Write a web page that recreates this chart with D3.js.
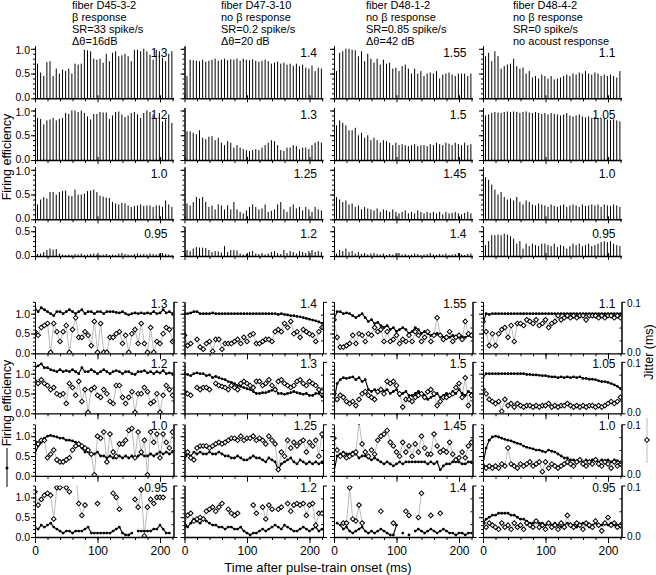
<!DOCTYPE html>
<html>
<head>
<meta charset="utf-8">
<title>Firing efficiency and jitter</title>
<style>
body { margin: 0; background: #fff; }
svg { font-family: "Liberation Sans", Arial, sans-serif; }
</style>
</head>
<body>
<svg width="656" height="575"></svg>
<script src="https://d3js.org/d3.v7.min.js"></script>
<script>

// ---- data ----
var headerLines = [
  ["fiber D45-3-2", "\u03b2 response", "SR=33 spike/s", "\u0394\u03b8=16dB"],
  ["fiber D47-3-10", "no \u03b2 response", "SR=0.2 spike/s", "\u0394\u03b8=20 dB"],
  ["fiber D48-1-2", "no \u03b2 response", "SR=0.85 spike/s", "\u0394\u03b8=42 dB"],
  ["fiber D48-4-2", "no \u03b2 response", "SR=0 spike/s", "no acoust response"]
];

// stimulus level shown in each panel, per fiber, top row to bottom row
var levels = [
  ["1.3", "1.2", "1.0", "0.95"],
  ["1.4", "1.3", "1.25", "1.2"],
  ["1.55", "1.5", "1.45", "1.4"],
  ["1.1", "1.05", "1.0", "0.95"]
];

// pulse onsets (ms) for the period histograms
var pulseTimes = [4,9,14,19,24,29,34,39,44,49,54,59,64,69,74,79,84,89,94,99,104,109,
  114,119,124,129,134,139,144,149,154,159,164,169,174,179,184,189,194,199,204,209,214,219];

// firing efficiency per pulse (upper panels)
var histD45 = [
  [0.70,0.52,0.45,0.73,0.75,0.45,0.60,0.50,0.58,0.55,0.60,
   0.50,0.70,0.68,0.70,0.98,0.97,0.95,0.80,0.78,0.80,0.72,
   0.90,0.75,0.92,0.95,0.85,0.87,0.90,0.85,0.75,0.98,0.98,
   0.95,1.00,0.95,0.88,0.78,0.98,0.95,0.82,0.75,0.90,0.95],
  [0.85,0.83,0.72,0.80,0.82,0.85,0.80,0.83,0.85,0.95,0.93,
   1.00,1.00,0.97,1.00,0.95,0.88,0.82,0.93,0.93,0.97,0.96,
   0.96,0.83,0.90,0.97,0.98,0.92,0.87,0.90,0.95,0.97,0.92,
   0.85,0.95,1.00,0.97,0.92,0.85,0.95,0.78,0.82,0.92,0.75],
  [0.30,0.40,0.45,0.42,0.55,0.55,0.50,0.55,0.57,0.58,0.48,
   0.47,0.60,0.50,0.50,0.52,0.57,0.58,0.60,0.55,0.48,0.46,
   0.44,0.43,0.35,0.32,0.30,0.33,0.32,0.28,0.25,0.27,0.28,
   0.30,0.27,0.28,0.28,0.25,0.28,0.28,0.25,0.38,0.30,0.25],
  [0.04,0.05,0.08,0.12,0.15,0.13,0.14,0.05,0.03,0.02,0.03,
   0.02,0.04,0.03,0.05,0.02,0.03,0.04,0.05,0.03,0.02,0.03,
   0.04,0.02,0.03,0.02,0.05,0.06,0.04,0.03,0.02,0.04,0.05,
   0.03,0.04,0.03,0.05,0.04,0.03,0.05,0.06,0.04,0.03,0.02]
];
var histD47 = [
  [0.45,0.78,0.77,0.76,0.75,0.78,0.74,0.76,0.78,0.80,0.76,
   0.78,0.80,0.77,0.79,0.78,0.80,0.76,0.80,0.78,0.77,0.79,
   0.76,0.74,0.76,0.78,0.75,0.70,0.72,0.74,0.70,0.72,0.68,
   0.70,0.66,0.70,0.65,0.68,0.62,0.60,0.66,0.55,0.62,0.60],
  [0.58,0.58,0.55,0.52,0.60,0.45,0.42,0.47,0.48,0.40,0.45,
   0.35,0.30,0.38,0.35,0.25,0.30,0.25,0.22,0.20,0.18,0.20,
   0.22,0.20,0.25,0.30,0.35,0.40,0.38,0.30,0.20,0.18,0.25,
   0.25,0.30,0.28,0.22,0.25,0.25,0.22,0.30,0.35,0.38,0.35],
  [0.32,0.28,0.35,0.45,0.42,0.45,0.35,0.25,0.28,0.20,0.30,
   0.28,0.20,0.28,0.20,0.35,0.20,0.15,0.12,0.18,0.25,0.30,
   0.25,0.20,0.22,0.30,0.15,0.17,0.20,0.30,0.35,0.20,0.15,
   0.25,0.30,0.22,0.25,0.18,0.25,0.20,0.15,0.25,0.20,0.18],
  [0.12,0.10,0.15,0.18,0.17,0.17,0.16,0.12,0.08,0.10,0.09,
   0.07,0.20,0.08,0.12,0.12,0.11,0.05,0.03,0.04,0.08,0.10,
   0.05,0.04,0.06,0.03,0.05,0.08,0.10,0.06,0.04,0.12,0.06,
   0.10,0.08,0.05,0.10,0.08,0.06,0.10,0.12,0.08,0.10,0.08]
];
var histD481 = [
  [0.55,0.92,0.95,1.00,1.00,0.98,0.97,0.85,0.95,0.75,0.90,
   0.80,0.72,0.80,0.68,0.78,0.70,0.72,0.60,0.62,0.55,0.65,
   0.68,0.60,0.50,0.60,0.50,0.55,0.45,0.50,0.52,0.50,0.55,
   0.40,0.48,0.50,0.52,0.48,0.45,0.50,0.50,0.50,0.45,0.50],
  [0.70,0.80,0.75,0.70,0.60,0.60,0.65,0.50,0.55,0.45,0.50,
   0.40,0.45,0.40,0.35,0.40,0.38,0.35,0.30,0.35,0.30,0.32,
   0.30,0.28,0.30,0.32,0.28,0.30,0.30,0.28,0.32,0.30,0.35,
   0.32,0.30,0.35,0.33,0.30,0.35,0.32,0.30,0.35,0.30,0.32],
  [0.45,0.40,0.35,0.38,0.30,0.32,0.25,0.28,0.20,0.25,0.22,
   0.20,0.18,0.22,0.15,0.20,0.18,0.15,0.20,0.15,0.12,0.15,
   0.18,0.12,0.15,0.12,0.18,0.15,0.12,0.15,0.13,0.15,0.12,
   0.15,0.10,0.15,0.12,0.13,0.15,0.12,0.10,0.13,0.15,0.12],
  [0.05,0.12,0.10,0.15,0.08,0.10,0.05,0.08,0.04,0.06,0.03,
   0.05,0.06,0.04,0.03,0.05,0.02,0.04,0.03,0.05,0.06,0.03,
   0.04,0.02,0.03,0.05,0.04,0.02,0.03,0.04,0.06,0.03,0.02,
   0.04,0.03,0.05,0.02,0.03,0.04,0.06,0.03,0.02,0.04,0.05]
];
var histD484 = [
  [0.85,0.92,0.75,0.95,0.85,0.60,0.65,0.68,0.70,0.80,0.65,
   0.60,0.62,0.50,0.55,0.42,0.45,0.40,0.48,0.45,0.40,0.45,
   0.38,0.40,0.42,0.45,0.48,0.45,0.50,0.48,0.52,0.50,0.55,
   0.50,0.48,0.52,0.50,0.45,0.48,0.45,0.48,0.45,0.42,0.55],
  [0.90,0.92,0.95,0.97,0.96,0.95,0.97,0.98,0.97,0.98,0.97,
   0.95,0.97,0.98,0.96,0.95,0.97,0.95,0.93,0.95,0.92,0.95,
   0.93,0.92,0.90,0.92,0.95,0.90,0.88,0.90,0.92,0.88,0.86,
   0.88,0.85,0.87,0.85,0.83,0.85,0.82,0.80,0.82,0.80,0.78],
  [0.85,0.80,0.70,0.60,0.50,0.55,0.45,0.40,0.42,0.38,0.45,
   0.35,0.30,0.38,0.35,0.30,0.28,0.32,0.30,0.28,0.25,0.30,
   0.27,0.25,0.28,0.30,0.25,0.28,0.30,0.28,0.25,0.30,0.27,
   0.28,0.30,0.28,0.30,0.25,0.30,0.28,0.27,0.30,0.28,0.25],
  [0.22,0.30,0.42,0.42,0.43,0.42,0.45,0.43,0.40,0.35,0.25,
   0.30,0.15,0.25,0.20,0.25,0.22,0.20,0.25,0.25,0.22,0.20,
   0.25,0.18,0.22,0.20,0.15,0.20,0.25,0.22,0.25,0.20,0.22,
   0.25,0.20,0.22,0.25,0.28,0.30,0.28,0.30,0.25,0.22,0.20]
];

// sample times (ms) for the lower panels
var sampleTimes = [0,5,10,15,20,25,30,35,40,45,50,55,60,65,70,75,80,85,90,95,100,105,
  110,115,120,125,130,135,140,145,150,155,160,165,170,175,180,185,190,195,200,205,210,215,220];

// firing efficiency (lower panels, left axis)
var effD45 = [
  [1.15,1.05,1.15,1.10,1.05,1.00,0.95,1.05,1.05,
   1.00,1.05,1.10,1.05,1.00,1.05,1.10,1.00,1.05,
   1.05,1.00,1.05,1.05,1.00,1.05,1.05,1.05,1.03,
   1.02,1.05,1.00,0.97,1.00,1.02,1.00,1.02,1.00,
   1.02,1.00,1.05,1.00,1.02,1.10,1.02,1.05,1.00],
  [1.15,1.20,1.25,1.15,1.15,1.10,1.08,1.05,1.10,
   1.05,1.08,1.05,1.10,1.05,1.00,1.15,1.05,1.05,
   1.10,1.05,1.00,1.05,1.10,1.05,1.00,1.05,1.08,
   1.05,1.00,1.05,1.05,1.00,0.98,1.05,1.05,1.08,
   1.02,1.05,1.00,1.05,1.02,1.08,1.00,1.02,1.00],
  [0.55,0.75,0.85,0.95,1.00,1.02,1.00,0.98,0.95,
   0.95,0.90,0.90,0.88,0.85,0.80,0.70,0.60,0.60,
   0.55,0.55,0.60,0.50,0.50,0.45,0.50,0.45,0.45,
   0.50,0.45,0.50,0.45,0.50,0.45,0.50,0.55,0.50,
   0.50,0.55,0.50,0.55,0.60,0.55,0.60,0.55,0.60],
  [0.25,0.20,0.30,0.25,0.30,0.35,0.25,0.20,0.15,
   0.10,0.15,0.15,0.10,0.15,0.15,0.15,0.20,0.25,
   0.10,0.10,0.10,0.10,0.10,0.10,0.10,0.15,0.20,
   0.25,0.10,0.05,0.05,0.10,null,0.15,0.15,0.15,
   0.15,0.15,0.20,0.20,0.30,0.20,0.10,0.10,null]
];
var effD47 = [
  [1.00,1.00,1.02,1.05,1.05,1.00,1.00,1.00,1.00,
   1.02,1.00,1.00,1.00,1.00,1.00,1.00,1.00,1.00,
   1.00,1.00,1.00,1.00,1.00,1.00,1.00,1.00,1.00,
   1.00,1.00,1.00,0.98,1.00,0.98,0.97,0.95,0.95,
   0.93,0.92,0.90,0.88,0.86,0.84,0.82,0.79,0.76],
  [1.00,0.98,0.95,1.00,1.02,1.00,1.00,0.95,0.97,
   0.90,0.93,0.90,0.87,0.85,0.80,0.78,0.75,0.70,
   0.68,0.65,0.62,0.60,0.55,0.50,0.50,0.52,0.52,
   0.55,0.58,0.62,0.50,0.50,0.48,0.50,0.52,0.55,
   0.52,0.50,0.48,0.50,0.45,0.45,0.50,0.50,0.42],
  [0.45,0.55,0.50,0.60,0.55,0.60,0.55,0.55,0.60,
   0.55,0.55,0.60,0.55,0.50,0.50,0.45,0.45,0.50,
   0.45,0.40,0.40,0.45,0.50,0.45,0.45,0.40,0.35,
   0.45,0.40,0.35,0.15,0.30,0.35,0.40,0.45,0.35,
   0.30,0.40,0.35,0.30,0.35,0.30,0.35,0.30,0.35],
  [0.30,0.25,0.35,0.45,0.40,0.35,0.45,0.40,0.35,
   0.30,0.30,0.25,0.25,0.20,0.25,0.25,0.20,0.20,
   0.25,0.15,0.10,0.05,0.10,0.10,0.15,0.20,0.15,
   0.20,0.25,0.30,0.25,0.20,0.30,0.25,0.20,0.15,
   0.15,0.20,0.25,0.20,0.15,0.20,0.25,0.15,0.20]
];
var effD481 = [
  [0.85,1.05,1.05,1.00,1.02,1.00,0.95,0.90,0.95,
   1.00,0.90,0.80,0.85,0.75,0.78,0.70,0.65,0.70,
   0.60,0.65,0.55,0.60,0.65,0.60,0.50,0.55,0.65,
   0.60,0.50,0.55,0.50,0.45,0.48,0.50,0.45,0.40,
   0.42,0.40,0.45,0.42,0.40,0.42,0.40,0.45,0.42],
  [0.30,0.75,0.85,0.90,0.88,0.90,0.92,0.85,0.90,
   0.80,0.85,0.60,0.55,0.60,0.55,0.60,0.55,0.60,
   0.50,0.55,0.60,0.45,0.50,0.55,0.45,0.45,0.50,
   0.55,0.50,0.45,0.35,0.40,0.45,0.50,0.40,0.45,
   0.50,0.45,0.55,0.50,0.60,0.50,0.45,0.55,0.50],
  [0.10,0.50,0.55,0.60,0.55,0.55,0.60,0.55,0.45,
   0.50,0.50,0.45,0.40,0.45,0.40,0.35,0.30,0.35,
   0.30,0.25,0.30,0.35,0.30,0.35,0.35,0.35,0.35,
   0.35,0.35,0.35,0.30,0.35,0.30,0.35,0.15,0.25,
   0.30,0.30,0.35,0.35,0.35,0.30,0.30,0.35,0.35],
  [null,0.35,0.30,0.20,0.25,0.15,0.10,0.15,0.20,
   0.25,0.15,0.10,0.15,0.10,0.15,0.20,0.15,0.10,
   0.05,0.05,0.30,null,0.10,null,0.05,null,0.15,
   0.20,0.15,0.10,0.15,0.20,0.15,0.10,0.15,0.20,
   0.15,0.10,0.10,0.05,0.10,0.10,0.05,0.10,0.10]
];
var effD484 = [
  [0.75,1.00,0.98,1.00,1.00,1.00,1.00,1.00,1.00,
   1.00,1.00,1.00,1.00,1.00,1.00,1.00,1.00,1.00,
   1.00,1.00,1.00,1.00,1.00,1.00,1.00,1.00,1.00,
   1.00,1.00,1.00,1.00,1.00,1.00,1.00,1.00,1.00,
   1.00,1.00,1.00,1.00,1.00,1.00,1.00,1.00,1.00],
  [0.90,1.00,1.00,1.00,1.00,1.00,1.00,1.00,1.00,
   1.00,1.00,1.00,1.00,1.00,0.98,0.98,0.97,0.97,
   0.96,0.95,0.95,0.93,0.92,0.92,0.90,0.92,0.90,
   0.92,0.90,0.92,0.90,0.92,0.88,0.88,0.86,0.86,
   0.85,0.82,0.80,0.80,0.78,0.75,0.72,0.68,0.62],
  [0.30,0.70,0.90,0.98,1.00,0.98,0.95,0.92,0.90,
   0.88,0.85,0.82,0.80,0.75,0.72,0.70,0.68,0.65,
   0.65,0.62,0.60,0.65,0.62,0.60,0.55,0.50,0.45,
   0.45,0.40,0.40,0.35,0.40,0.35,0.40,0.35,0.40,
   0.38,0.35,0.40,0.38,0.40,0.35,0.40,0.38,0.35],
  [0.35,0.45,0.50,0.55,0.55,0.60,0.60,0.60,0.60,
   0.55,0.55,0.50,0.45,0.45,0.40,0.35,0.35,0.40,
   0.35,0.35,0.30,0.35,0.30,0.35,0.30,0.25,0.30,
   0.35,0.30,0.30,0.25,0.30,0.35,0.30,0.25,0.30,
   0.35,0.30,0.30,0.35,0.30,0.35,0.30,0.30,0.25]
];

// spike jitter in ms (lower panels, right axis)
var jitD45 = [
  [0.042,0.035,0.050,0.054,0.058,0.002,0.058,0.042,0.023,
   0.042,0.054,0.002,0.046,0.069,0.031,0.031,0.042,0.035,
   0.015,0.062,0.002,0.058,0.002,0.002,0.031,0.031,0.038,
   0.042,0.019,0.035,0.002,0.038,0.046,0.019,0.058,0.019,
   0.002,0.050,0.002,0.023,0.019,0.038,0.050,0.046,0.023],
  [0.062,0.058,0.065,0.058,0.054,0.046,0.050,0.038,0.035,
   0.038,0.019,0.058,0.050,0.035,0.062,0.023,0.046,0.002,
   0.046,0.050,0.035,0.031,0.046,0.038,0.023,0.019,0.054,
   0.054,0.031,0.019,0.031,0.042,0.002,0.038,0.038,0.050,
   0.042,0.019,0.023,0.038,0.002,0.035,0.054,0.046,0.035],
  [0.065,0.062,0.069,0.069,0.035,0.042,0.050,0.031,0.027,
   0.027,0.031,0.035,0.050,0.058,0.062,0.058,0.054,0.050,
   0.042,0.002,0.077,0.073,0.085,0.027,0.081,0.046,0.038,
   0.062,0.062,0.069,0.088,0.092,0.035,0.085,0.046,0.069,
   0.002,0.085,0.065,0.081,0.035,0.081,0.065,0.054,0.085],
  [0.088,0.062,0.073,0.081,0.085,0.081,0.035,0.096,0.096,
   null,0.096,0.088,null,0.123,0.065,0.042,0.062,null,
   null,null,0.065,null,null,null,null,0.085,0.077,
   0.054,null,null,null,null,0.073,0.058,0.092,0.002,
   0.058,0.073,0.065,0.077,0.077,0.077,null,null,null]
];
var jitD47 = [
  [0.035,0.015,0.019,null,0.027,0.012,0.008,0.019,0.023,
   0.004,0.027,0.027,0.008,0.019,0.019,0.019,0.023,0.027,
   0.019,0.031,0.023,0.035,0.038,0.019,0.019,0.023,0.027,
   0.027,0.023,0.042,0.046,0.042,0.058,0.050,0.062,0.038,
   0.042,0.031,0.046,0.042,0.038,0.035,0.023,0.042,0.050],
  [0.042,0.038,0.035,null,0.050,0.046,0.050,0.050,0.046,
   null,0.058,0.054,0.052,0.050,0.046,0.054,0.050,0.046,
   0.058,0.062,0.058,0.054,0.050,0.062,0.062,0.054,0.058,
   0.065,0.054,0.046,0.062,0.065,0.058,0.054,0.050,0.054,
   0.062,0.065,0.058,0.054,0.062,0.058,0.054,0.046,0.042],
  [0.038,0.046,0.035,0.031,0.054,0.058,0.058,0.058,0.054,
   0.058,0.062,0.065,0.062,0.065,0.069,0.073,0.073,0.069,
   0.077,0.069,0.073,0.073,0.077,0.069,0.073,0.069,0.062,
   0.077,0.069,0.062,0.012,0.046,0.038,0.069,0.054,0.065,
   0.058,0.065,0.069,0.046,0.065,0.058,0.069,0.038,0.081],
  [0.023,0.042,0.046,0.031,0.035,0.038,0.035,0.050,0.054,
   0.058,0.050,0.058,0.065,null,0.054,0.046,0.042,0.046,
   null,null,null,null,0.062,0.046,null,0.058,0.035,
   0.062,0.054,null,0.054,0.058,null,0.065,0.050,0.062,
   0.065,0.062,0.065,0.042,0.062,0.065,0.023,0.046,0.046]
];
var jitD481 = [
  [0.065,0.031,0.012,0.012,0.015,0.019,0.035,0.019,0.038,
   0.035,0.023,0.038,0.035,0.050,0.042,0.046,0.023,0.042,
   0.023,0.027,0.035,0.019,0.027,0.023,0.035,0.023,0.042,
   0.035,0.023,0.031,0.042,0.023,0.035,0.069,0.035,0.027,
   0.031,0.042,0.023,0.031,0.035,0.027,0.062,0.038,0.035],
  [0.038,0.027,0.035,0.031,0.023,0.019,0.023,0.015,0.027,
   0.038,0.042,0.035,0.031,0.027,0.042,0.046,0.038,0.062,
   0.058,0.062,0.054,0.038,0.012,0.027,0.027,0.023,0.031,
   0.035,0.038,0.031,0.042,0.046,0.038,0.015,0.023,0.031,
   0.031,0.035,0.038,0.050,0.058,0.031,0.069,0.015,0.035],
  [0.073,0.050,0.038,0.042,0.035,0.038,0.042,0.046,0.104,
   0.062,0.046,0.038,0.050,0.042,0.069,0.077,0.081,0.088,
   0.065,0.058,0.046,0.038,0.065,0.046,0.058,0.038,0.062,
   0.046,0.077,0.054,0.042,0.042,0.081,0.058,0.046,0.050,
   0.046,0.065,0.042,0.031,0.035,0.046,0.035,0.058,0.065],
  [null,null,null,0.027,0.027,0.096,0.035,0.031,0.062,
   0.027,null,null,null,null,null,0.050,null,null,
   null,0.027,null,null,null,0.050,0.042,null,null,
   0.038,0.085,null,null,0.042,null,null,0.046,null,
   null,null,null,null,null,null,null,null,null]
];
var jitD484 = [
  [0.062,0.042,0.015,0.038,0.015,0.038,0.046,0.050,0.031,
   0.054,0.023,0.058,0.058,0.054,0.065,0.062,0.058,0.065,
   0.054,0.058,0.065,0.050,0.058,0.062,0.073,0.065,0.069,
   0.073,0.069,0.073,0.069,0.073,0.073,0.065,0.073,0.073,
   0.073,0.069,0.073,0.069,0.073,0.073,0.069,0.073,0.069],
  [0.046,0.038,0.027,0.023,0.019,0.023,0.004,0.027,0.015,
   0.019,0.012,0.019,0.015,0.012,0.015,0.015,0.012,0.015,
   0.012,0.015,0.015,0.019,0.012,0.015,0.012,0.015,0.015,
   0.019,0.015,0.012,0.015,0.012,0.015,0.012,0.015,0.015,
   0.012,0.015,0.012,0.015,0.019,0.023,0.019,0.023,0.031],
  [0.019,0.015,0.019,0.015,0.019,0.015,0.023,0.019,0.054,
   0.023,0.019,0.015,0.023,0.019,0.023,0.027,0.019,0.023,
   0.027,0.008,0.027,0.015,0.023,0.019,0.015,0.019,0.023,
   0.027,0.023,0.019,0.027,0.031,0.023,0.019,0.027,0.023,
   0.031,0.023,0.019,0.027,0.023,0.015,0.027,0.019,0.023],
  [0.027,0.019,0.027,0.023,0.019,0.015,0.027,0.019,0.023,
   0.015,0.027,0.019,0.023,0.015,0.027,0.023,0.019,0.031,
   0.019,0.023,0.015,0.027,0.019,0.023,0.015,0.027,0.019,
   0.042,0.023,0.019,0.027,0.023,0.015,0.027,0.023,0.019,
   0.031,0.023,0.012,0.027,0.038,0.023,0.027,0.019,0.023]
];

var histData = [histD45, histD47, histD481, histD484];
var effData = [effD45, effD47, effD481, effD484];
var jitData = [jitD45, jitD47, jitD481, jitD484];

// ---- layout ----
var svg = d3.select("svg");
var colX = [35, 184.5, 334, 483];
var headerX = [72, 221, 366, 513];
var panelW = 138.5;
var x = d3.scaleLinear().domain([0, 221.6]).range([0, panelW]);

var histRows = [
  {base: 98.3, top: 1.06},
  {base: 160, top: 1.06},
  {base: 219.3, top: 1.06},
  {base: 256, top: 0.6}
];
var histK = 49.5;
var dynBase = [353.3, 413.3, 475.8, 537];
var dynK = 39.6, dynTop = 1.3;

function styleAxis(g) {
  g.select(".domain").attr("stroke", "#000");
  g.selectAll(".tick line").attr("stroke", "#000");
  g.selectAll(".tick text").attr("font-size", 10.5).attr("fill", "#000")
    .attr("font-family", "Liberation Sans, Arial, sans-serif");
}

// column headers
headerLines.forEach(function(lines, c) {
  lines.forEach(function(s, i) {
    svg.append("text")
      .attr("x", headerX[c]).attr("y", 8.8 + i * 12.1)
      .attr("font-size", 11).text(s);
  });
});

// upper panels: firing efficiency per pulse
histData.forEach(function(col, c) {
  histRows.forEach(function(row, r) {
    var y = d3.scaleLinear().domain([0, row.top]).range([row.base, row.base - row.top * histK]);
    var g = svg.append("g").attr("transform", "translate(" + colX[c] + ",0)");

    g.selectAll("line.bar")
      .data(d3.zip(pulseTimes, col[r]))
      .join("line")
        .attr("class", "bar")
        .attr("x1", function(d) { return x(d[0]); })
        .attr("x2", function(d) { return x(d[0]); })
        .attr("y1", y(0))
        .attr("y2", function(d) { return y(d[1]); })
        .attr("stroke", "#000")
        .attr("stroke-width", 1);

    g.append("g")
      .call(d3.axisLeft(y).tickValues(d3.range(0, row.top + 1e-6, 0.1)).tickSize(2).tickFormat("").tickSizeOuter(0))
      .call(styleAxis);
    var la = g.append("g")
      .call(d3.axisLeft(y).tickValues([0, 0.5, 1].filter(function(v) { return v <= row.top; }))
        .tickSize(4).tickPadding(1).tickSizeOuter(0)
        .tickFormat(c === 0 ? d3.format(".1f") : ""))
      .call(styleAxis);
    // keep the stacked 0.0 / 1.0 labels of neighbouring rows apart
    la.selectAll(".tick").filter(function(d) { return d === 0; }).select("text").attr("dy", "0.2em");
    la.selectAll(".tick").filter(function(d) { return d === 1; }).select("text").attr("dy", "0.45em");

    var xa = g.append("g").attr("transform", "translate(0," + row.base + ")")
      .call(d3.axisBottom(x).tickValues(d3.range(0, 221, 20)).tickSize(3).tickFormat("").tickSizeOuter(0))
      .call(styleAxis);
    xa.select(".domain").attr("stroke-width", 1.6);
    xa.selectAll(".tick").filter(function(d) { return d % 100 === 0; })
      .select("line").attr("y1", -3).attr("y2", 4);

    g.append("text")
      .attr("x", panelW - 6).attr("y", row.base - row.top * histK + 11.5)
      .attr("text-anchor", "end").attr("font-size", 12)
      .text(levels[c][r]);
  });
});

// lower panels: firing efficiency and jitter
var clipId = 0;
effData.forEach(function(col, c) {
  dynBase.forEach(function(base, r) {
    var yL = d3.scaleLinear().domain([0, dynTop]).range([base, base - dynTop * dynK]);
    var yR = d3.scaleLinear().domain([0, 0.1]).range([base, base - dynTop * dynK]);
    var g = svg.append("g").attr("transform", "translate(" + colX[c] + ",0)");

    clipId++;
    g.append("clipPath").attr("id", "clip" + clipId)
      .append("rect").attr("x", 0).attr("y", yL(dynTop)).attr("width", panelW).attr("height", dynTop * dynK);
    var plot = g.append("g").attr("clip-path", "url(#clip" + clipId + ")");

    var jit = d3.zip(sampleTimes, jitData[c][r]);
    var eff = d3.zip(sampleTimes, col[r]);

    plot.append("path")
      .datum(jit)
      .attr("fill", "none").attr("stroke", "#bbb").attr("stroke-width", 1)
      .attr("d", d3.line().defined(function(d) { return d[1] != null; })
        .x(function(d) { return x(d[0]); }).y(function(d) { return yR(d[1]); }));

    plot.append("path")
      .datum(eff)
      .attr("fill", "none").attr("stroke", "#000").attr("stroke-width", 1.1)
      .attr("d", d3.line().defined(function(d) { return d[1] != null; })
        .x(function(d) { return x(d[0]); }).y(function(d) { return yL(d[1]); }));

    plot.selectAll("circle")
      .data(eff.filter(function(d) { return d[1] != null; }))
      .join("circle")
        .attr("cx", function(d) { return x(d[0]); })
        .attr("cy", function(d) { return yL(d[1]); })
        .attr("r", 1.4).attr("fill", "#000");

    plot.selectAll("path.dia")
      .data(jit.filter(function(d) { return d[1] != null; }))
      .join("path")
        .attr("class", "dia")
        .attr("d", d3.symbol(d3.symbolSquare, 11))
        .attr("transform", function(d) { return "translate(" + x(d[0]) + "," + yR(d[1]) + ") rotate(45)"; })
        .attr("fill", "#fff").attr("stroke", "#000").attr("stroke-width", 1);

    // left axis
    g.append("g")
      .call(d3.axisLeft(yL).tickValues(d3.range(0, 1.3001, 0.1)).tickSize(2).tickFormat("").tickSizeOuter(0))
      .call(styleAxis);
    g.append("g")
      .call(d3.axisLeft(yL).tickValues([0, 0.5, 1]).tickSize(4).tickPadding(1).tickSizeOuter(0)
        .tickFormat(c === 0 ? d3.format(".1f") : ""))
      .call(styleAxis);

    // right axis (jitter)
    g.append("g").attr("transform", "translate(" + panelW + ",0)")
      .call(d3.axisRight(yR).tickValues([0.025, 0.05, 0.075]).tickSize(-2).tickFormat("").tickSizeOuter(0))
      .call(styleAxis);
    var ra = g.append("g").attr("transform", "translate(" + panelW + ",0)")
      .call(d3.axisRight(yR).tickValues([0, 0.1]).tickSize(4).tickPadding(1.5).tickSizeOuter(0)
        .tickFormat(c === 3 ? d3.format(".1f") : ""))
      .call(styleAxis);
    ra.selectAll(".tick text").attr("font-size", 10);
    ra.selectAll(".tick").filter(function(d) { return d === 0; }).select("text").attr("dy", "0.2em");
    ra.selectAll(".tick").filter(function(d) { return d === 0.1; }).select("text").attr("dy", "0.45em");

    // time axis
    var xa = g.append("g").attr("transform", "translate(0," + base + ")")
      .call(d3.axisBottom(x).tickValues(d3.range(0, 221, 20)).tickSize(3).tickFormat("").tickSizeOuter(0))
      .call(styleAxis);
    xa.select(".domain").attr("stroke-width", 1.3);
    var xm = g.append("g").attr("transform", "translate(0," + base + ")")
      .call(d3.axisBottom(x).tickValues([0, 100, 200]).tickSize(6).tickPadding(3).tickSizeOuter(0)
        .tickFormat(r === 3 ? d3.format("d") : ""))
      .call(styleAxis);
    xm.select(".domain").remove();
    xm.selectAll(".tick text").attr("font-size", 12);

    g.append("text")
      .attr("x", panelW - 6).attr("y", yL(dynTop) + 6)
      .attr("text-anchor", "end").attr("font-size", 12)
      .text(levels[c][r]);
  });
});

// axis titles
svg.append("text")
  .attr("transform", "translate(11,157) rotate(-90)")
  .attr("text-anchor", "middle").attr("font-size", 12.5)
  .text("Firing efficiency");

svg.append("text")
  .attr("transform", "translate(11,403) rotate(-90)")
  .attr("text-anchor", "middle").attr("font-size", 12.5)
  .text("Firing efficiency");
svg.append("line").attr("x1", 7).attr("x2", 7).attr("y1", 448).attr("y2", 487)
  .attr("stroke", "#000").attr("stroke-width", 1);
svg.append("circle").attr("cx", 7).attr("cy", 468).attr("r", 1.5).attr("fill", "#000");

svg.append("text")
  .attr("transform", "translate(653,352) rotate(-90)")
  .attr("text-anchor", "middle").attr("font-size", 12.5)
  .text("Jitter (ms)");
svg.append("line").attr("x1", 647).attr("x2", 647).attr("y1", 418).attr("y2", 463)
  .attr("stroke", "#bbb").attr("stroke-width", 1);
svg.append("path")
  .attr("d", d3.symbol(d3.symbolSquare, 11))
  .attr("transform", "translate(647,440) rotate(45)")
  .attr("fill", "#fff").attr("stroke", "#000").attr("stroke-width", 1);

svg.append("text")
  .attr("x", 318).attr("y", 572)
  .attr("text-anchor", "middle").attr("font-size", 13)
  .text("Time after pulse-train onset (ms)");

</script>
</body>
</html>
